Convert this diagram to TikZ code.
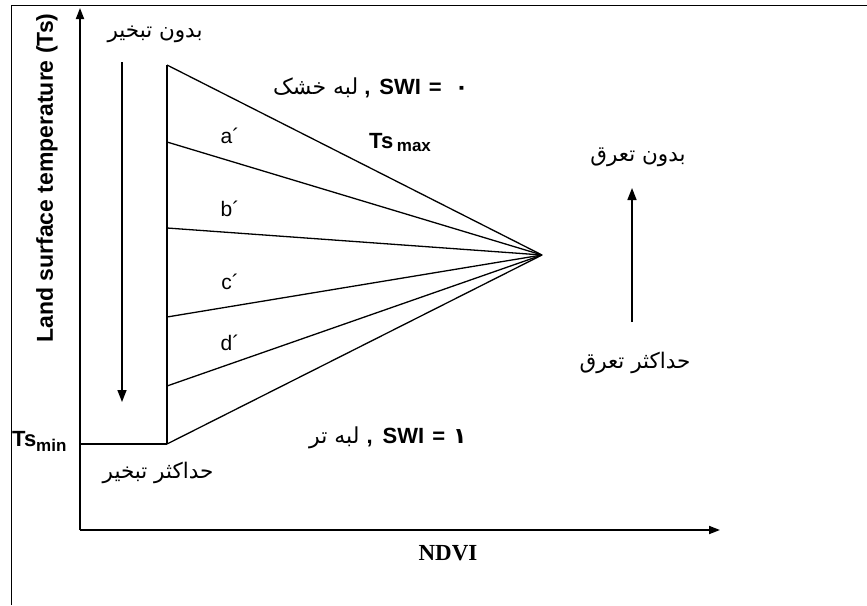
\documentclass[tikz,border=0pt]{standalone}
\usepackage{fontspec}
\setmainfont{Liberation Sans}
\newfontfamily\fafont[Script=Arabic]{DejaVu Sans}
\newfontfamily\serifb{Liberation Serif}
\TeXXeTstate=1
\usetikzlibrary{arrows.meta}
\newcommand{\fa}[1]{{\fafont\beginR #1\endR}}
\begin{document}
\begin{tikzpicture}[x=1pt,y=-1pt,
  ln/.style={line width=1.3pt},
  ax/.style={line width=1.8pt,-{Triangle[length=11pt,width=8pt]}},
  arr/.style={line width=1.5pt,-{Triangle[length=12pt,width=9pt]}},
  en/.style={inner sep=0pt,font=\bfseries\fontsize{22}{24}\selectfont},
  lt/.style={inner sep=0pt,font=\fontsize{21}{23}\selectfont},
  fl/.style={inner sep=0pt,font=\fontsize{21.5}{23}\selectfont}]
\useasboundingbox (0,0) rectangle (867,605);
\coordinate (f1) at (11,605);
\coordinate (f2) at (11,5);
\coordinate (f3) at (867,5);
\draw[line width=1pt] (f1) -- (f2) -- (f3);
% axes
\coordinate (O) at (80,530);
\coordinate (Ytop) at (80,8);
\coordinate (Xend) at (720,530);
\draw[ax] (O) -- (Ytop);
\draw[ax] (O) -- (Xend);
% fan
\coordinate (P) at (542,255);
\coordinate (t) at (167,65);
\coordinate (a) at (167,142);
\coordinate (b) at (167,228);
\coordinate (c) at (167,317);
\coordinate (d) at (167,386);
\coordinate (m) at (167,444);
\coordinate (ym) at (80,444);
\draw[ln] (t) -- (m);
\draw[ln] (ym) -- (m);
\foreach \p in {t,a,b,c,d,m} \draw[ln] (\p) -- (P);
% arrows
\coordinate (da1) at (122,62);
\coordinate (da2) at (122,402);
\draw[arr] (da1) -- (da2);
\coordinate (ua1) at (632,322);
\coordinate (ua2) at (632,188);
\draw[arr] (ua1) -- (ua2);
% labels
\node[inner sep=0pt,rotate=90,font=\bfseries\fontsize{23}{25}\selectfont] (ylab) at (47,178) {Land surface temperature (Ts)};
\node[inner sep=0pt,font=\serifb\bfseries\fontsize{23}{25}\selectfont] (ndvi) at (448,553) {NDVI};
\node[fl] (nevap) at (155,34) {\fa{بدون تبخیر}};
\node[fl] (mevap) at (158,473) {\fa{حداکثر تبخیر}};
\node[fl] (ntr) at (638,157) {\fa{بدون تعرق}};
\node[fl] (mtr) at (635,363) {\fa{حداکثر تعرق}};
\node[en,anchor=west] (dry) at (273,88) {{\mdseries\fa{لبه خشک}}\hspace{6pt},\hspace{9pt}SWI\hspace{8pt}=\hspace{13pt}\fa{۰}};
\node[en,anchor=west] (wet) at (309,438) {{\mdseries\fa{لبه تر}}\hspace{7pt},\hspace{10pt}SWI\hspace{8pt}=\hspace{8pt}\fa{۱}};
\node[en,anchor=west] (tsmax) at (369,143) {Ts\,{\fontsize{17}{19}\selectfont\raisebox{-3pt}{max}}};
\node[en,anchor=west] (tsmin) at (12,441) {Ts{\fontsize{17}{19}\selectfont\raisebox{-5pt}{min}}};
\node[lt] (la) at (230,136) {a´};
\node[lt] (lb) at (230,209) {b´};
\node[lt] (lc) at (230,282) {c´};
\node[lt] (ld) at (230,343) {d´};
\end{tikzpicture}
\end{document}
